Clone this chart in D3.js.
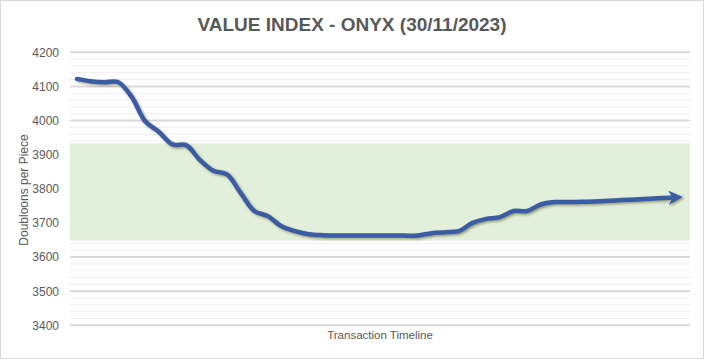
<!DOCTYPE html>
<html><head><meta charset="utf-8">
<script src="https://cdn.jsdelivr.net/npm/d3@7"></script>
<style>body{margin:0;background:#fff}svg{display:block}</style>
</head><body>
<script>
const title = "VALUE INDEX - ONYX (30/11/2023)";
const yTitle = "Doubloons per Piece";
const xTitle = "Transaction Timeline";
const yTicks = [3400,3500,3600,3700,3800,3900,4000,4100,4200];
const bandRange = [3648, 3933];
const values = [4122,4115,4112,4113,4070,3998,3967,3930,3928,3885,3853,3842,3788,3735,3720,3690,3676,3667,3664,3663,
3663,3663,3663,3663,3663,3663,3670,3673,3676,3700,3712,3717,3735,3735,3754,3761,3761,3762,3763,3765,3767,3769,3771,3773,3775];

const W=704,H=359;
const svg=d3.select("body").append("svg").attr("width",W).attr("height",H);
const defs=svg.append("defs");
const f=defs.append("filter").attr("id","sh").attr("x","-5%").attr("y","-20%").attr("width","110%").attr("height","140%");
f.append("feDropShadow").attr("dx",1.5).attr("dy",1.5).attr("stdDeviation",1.2).attr("flood-color","#3a3a10").attr("flood-opacity",0.45);
defs.append("marker").attr("id","arr").attr("viewBox","0 0 10 10").attr("refX",6).attr("refY",5)
 .attr("markerWidth",3.2).attr("markerHeight",3.2).attr("orient","auto").attr("markerUnits","strokeWidth")
 .append("path").attr("d","M0,0 L10,5 L0,10 L3,5 Z").attr("fill","#3B5CA3");

svg.append("rect").attr("x",0.5).attr("y",0.5).attr("width",W-1).attr("height",H-1).attr("fill","#fff").attr("stroke","#D9D9D9");

const x0=70,x1=690;
const y=d3.scaleLinear().domain([3400,4200]).range([325.3,52.3]);
const x=d3.scaleLinear().domain([0,values.length-1]).range([77,677]);

const minor=d3.range(3400,4201,20).filter(v=>v%100!==0);
svg.append("g").selectAll("line").data(minor).join("line")
 .attr("x1",x0).attr("x2",x1).attr("y1",d=>y(d)).attr("y2",d=>y(d)).attr("stroke","#EEEEEE").attr("stroke-width",1);
svg.append("g").selectAll("line").data(yTicks).join("line")
 .attr("x1",x0).attr("x2",x1).attr("y1",d=>y(d)).attr("y2",d=>y(d)).attr("stroke","#D9D9D9").attr("stroke-width",2);

svg.append("rect").attr("x",x0).attr("width",x1-x0).attr("y",y(bandRange[1])).attr("height",y(bandRange[0])-y(bandRange[1])).attr("fill","#E2EFDA");

const ax=svg.append("g").attr("transform",`translate(${x0-11},0)`).call(d3.axisLeft(y).tickValues(yTicks).tickSize(0).tickPadding(0).tickFormat(d3.format("d")));
ax.select(".domain").remove();
ax.selectAll("text").attr("font-family","Liberation Sans Narrow, Liberation Sans, sans-serif").attr("font-size",12).attr("fill","#595959");

const line=d3.line().x((d,i)=>x(i)).y(d=>y(d)).curve(d3.curveCatmullRom.alpha(0.5));
svg.append("path").datum(values).attr("d",line).attr("fill","none").attr("stroke","#3B5CA3").attr("stroke-width",4.5)
 .attr("stroke-linecap","round").attr("stroke-linejoin","round").attr("marker-end","url(#arr)").attr("filter","url(#sh)");

svg.append("text").attr("x",352).attr("y",31).attr("text-anchor","middle").attr("font-family","Liberation Sans Narrow, Liberation Sans, sans-serif")
 .attr("font-weight","bold").attr("font-size",19).attr("fill","#595959").text(title);
svg.append("text").attr("transform","translate(28,190) rotate(-90)").attr("text-anchor","middle").attr("font-family","Liberation Sans Narrow, Liberation Sans, sans-serif")
 .attr("font-size",12).attr("fill","#595959").text(yTitle);
svg.append("text").attr("x",380).attr("y",339).attr("text-anchor","middle").attr("font-family","Liberation Sans Narrow, Liberation Sans, sans-serif")
 .attr("font-size",11.5).attr("fill","#595959").text(xTitle);
</script>
</body></html>
